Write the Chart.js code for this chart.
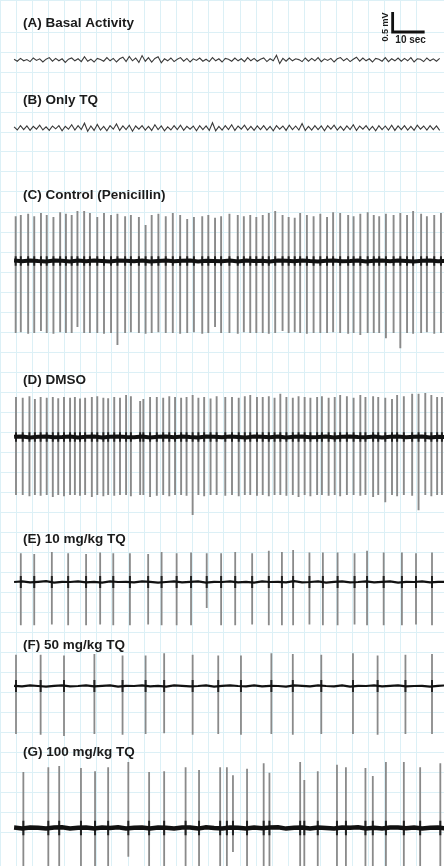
<!DOCTYPE html>
<html>
<head>
<meta charset="utf-8">
<script src="https://cdn.jsdelivr.net/npm/chart.js@4.4.0/dist/chart.umd.min.js"></script>
<style>
  html, body { margin: 0; padding: 0; background: #fff; overflow: hidden; }
  #wrap { position: relative; width: 444px; height: 866px; }
</style>
</head>
<body>
<div id="wrap"><canvas id="eeg"></canvas></div>
<script>
// panel titles
const panelTitles = ['(A) Basal Activity', '(B) Only TQ', '(C) Control (Penicillin)', '(D) DMSO',
  '(E) 10 mg/kg TQ', '(F) 50 mg/kg TQ', '(G) 100 mg/kg TQ'];

// A / B : continuous traces, mV, one sample per second starting at 4.4 s
const traceStart = 4.4;
const traceStep = 1;
const basalTrace = [
  0.02,-0.03,0.04,-0.02,0.01,-0.04,0.05,-0.01,0.03,-0.05,0.02,0.06,-0.03,0.04,-0.02,0.03,-0.06,0.02,0.05,-0.02,
  0.03,-0.04,0.08,-0.03,0.02,-0.05,0.04,0.01,-0.03,0.06,-0.02,0.04,-0.05,0.03,0.07,-0.04,0.09,-0.02,0.05,-0.06,
  0.11,-0.03,0.06,-0.05,0.04,0.08,-0.07,0.03,-0.02,0.05,-0.04,0.02,0.06,-0.03,0.04,-0.05,0.03,-0.01,0.05,-0.03,
  0.02,-0.04,0.06,-0.02,0.03,-0.05,0.04,0.02,-0.03,0.05,-0.02,0.03,-0.04,0.06,-0.02,0.04,-0.03,0.02,0.05,-0.04,
  0.03,-0.02,0.12,-0.09,0.04,-0.03,0.05,-0.02,0.03,0.01,-0.04,0.05,-0.03,0.04,-0.02,0.06,-0.04,0.03,-0.01,0.04,
  -0.05,0.03,0.06,-0.02,0.04,-0.04,0.02,0.07,-0.03,0.05,-0.02,0.03,-0.05,0.04,0.02,-0.03,0.06,-0.04,0.03,-0.02,
  0.05,-0.03,0.04,-0.02,0.06,-0.05,0.03,0.02,-0.04,0.05,-0.02,0.03,-0.03,0.04
];
const onlyTqTrace = [
  0.03,-0.05,0.06,-0.04,0.05,-0.06,0.04,-0.03,0.07,-0.05,0.03,-0.06,0.05,-0.02,0.06,-0.07,0.04,-0.03,0.08,-0.05,
  0.06,-0.04,0.12,-0.08,0.05,-0.06,0.09,-0.05,0.04,-0.07,0.06,-0.03,0.10,-0.06,0.05,-0.04,0.07,-0.08,0.05,-0.03,
  0.06,-0.05,0.04,-0.06,0.08,-0.04,0.05,-0.07,0.03,-0.05,0.06,-0.04,0.07,-0.06,0.04,-0.03,0.05,-0.07,0.06,-0.04,
  0.05,-0.06,0.13,-0.07,0.04,-0.05,0.06,-0.04,0.08,-0.06,0.05,-0.03,0.07,-0.05,0.04,-0.06,0.05,-0.04,0.06,-0.05,
  0.04,-0.07,0.06,-0.03,0.05,-0.06,0.07,-0.04,0.05,-0.05,0.11,-0.06,0.04,-0.05,0.06,-0.04,0.05,-0.07,0.06,-0.03,
  0.07,-0.05,0.04,-0.06,0.05,-0.04,0.08,-0.06,0.05,-0.03,0.06,-0.05,0.04,-0.07,0.06,-0.04,0.05,-0.05,0.07,-0.06,
  0.05,-0.04,0.06,-0.05,0.04,-0.06,0.07,-0.03,0.05,-0.05,0.06,-0.04,0.05,-0.06
];

// C..G : baseline wobble, mV, one sample per 2.5 s starting at 4.4 s
const baseStep = 2.5;
const cBase = [
  0.01,-0.005,0.015,0,-0.01,0.01,0.005,-0.01,0.015,-0.005,
  0.01,0,-0.015,0.01,0.005,-0.005,0.015,-0.01,0,0.01,
  -0.005,0.005,0.015,-0.01,0.005,0,-0.005,0.01,-0.01,0.015,
  0,0.005,-0.01,0.01,0.005,-0.005,0.015,0,-0.01,0.005,
  0.01,-0.005,0,0.015,-0.01,0.005,0.01,-0.005,0.01,0,
  -0.01,0.005,0.015,-0.005,0.005
];
const dBase = [
  0.005,0.015,-0.01,0.005,0.01,-0.005,0,0.015,-0.01,0.005,
  0.01,-0.01,0.005,0.015,0,-0.005,0.01,-0.01,0.005,0.01,
  -0.005,0.015,0,-0.01,0.01,0.005,-0.005,0.01,0,-0.01,
  0.015,0.005,-0.005,0.01,-0.01,0.005,0.015,-0.005,0,0.01,
  -0.01,0.005,0.01,0,-0.005,0.015,-0.01,0.005,0.01,-0.005,
  0.005,0.01,-0.01,0.005,0
];
const eBase = [
  0,0.015,-0.01,0.005,0.02,-0.015,0.005,0,0.015,-0.01,
  0.005,-0.015,0.015,0,0.005,-0.01,0.015,0.005,-0.015,0,
  0.015,-0.01,0.005,0.015,-0.015,0.005,0,0.015,-0.01,0.005,
  -0.015,0.015,0,0.005,-0.01,0.02,-0.01,0,0.015,-0.015,
  0.005,0.015,-0.01,0,0.015,-0.01,0.005,0.015,-0.015,0.005,
  0,0.015,-0.01,0.005,0
];
const fBase = [
  0.005,-0.01,0.015,0,-0.015,0.005,0.015,-0.01,0,0.015,
  -0.01,0.005,0.015,-0.015,0.005,0,0.015,-0.01,0.005,-0.015,
  0.015,0.005,-0.01,0,0.015,-0.015,0.005,0.015,0,-0.01,
  0.015,-0.01,0.005,0,-0.015,0.015,0.005,-0.01,0.015,0,
  -0.01,0.015,-0.015,0.005,0,0.015,-0.01,0.005,0.015,-0.01,
  0,0.005,-0.015,0.005,0.015
];
const gBase = [
  0.01,-0.01,0.015,0.005,-0.015,0.01,0.02,-0.01,0.005,0.015,
  -0.015,0.01,0,0.02,-0.01,0.005,0.015,-0.015,0.01,0.005,
  -0.01,0.015,0.01,-0.015,0.02,0,-0.01,0.015,0.005,-0.01,
  0.015,-0.005,0.01,0.02,-0.015,0.005,0.01,-0.01,0.015,0,
  -0.015,0.01,0.005,0.02,-0.01,0.005,-0.015,0.015,0.01,-0.005,
  0.015,-0.01,0.005,0.01,-0.01
];

// spike trains: time (s), upward and downward deflection (mV)
const cTimes = [
  4.9,6.5,8.8,10.7,12.8,14.6,16.7,18.8,20.6,22.4,
  24.2,26.3,28.1,30.4,32.5,34.7,36.7,39.1,40.9,43.4,
  45.5,47.4,49.5,51.8,54.0,56.3,58.5,60.6,63.2,65.1,
  67.2,69.1,71.7,74.3,76.2,78.2,80.1,82.1,84.0,86.0,
  88.3,90.2,92.1,93.8,95.9,98.0,100.1,102.2,104.1,106.3,
  108.8,110.5,112.6,114.9,116.8,118.5,120.6,123.0,125.1,127.2,
  129.1,131.6,133.4,135.7,137.8
];
const cUp = [
  1.12,1.15,1.18,1.12,1.2,1.15,1.1,1.22,1.18,1.15,
  1.25,1.25,1.2,1.1,1.2,1.15,1.18,1.12,1.15,1.1,
  0.9,1.15,1.18,1.12,1.2,1.15,1.05,1.1,1.12,1.15,
  1.08,1.12,1.18,1.15,1.12,1.15,1.1,1.15,1.2,1.25,
  1.15,1.1,1.08,1.2,1.15,1.12,1.18,1.1,1.22,1.2,
  1.15,1.12,1.18,1.22,1.15,1.12,1.18,1.15,1.2,1.15,
  1.25,1.18,1.12,1.15,1.2
];
const cDown = [
  1.8,1.78,1.82,1.8,1.75,1.8,1.82,1.78,1.8,1.8,
  1.65,1.8,1.8,1.8,1.82,1.8,2.1,1.8,1.78,1.8,
  1.82,1.8,1.78,1.8,1.8,1.82,1.8,1.78,1.82,1.8,
  1.65,1.8,1.8,1.82,1.78,1.8,1.8,1.8,1.82,1.8,
  1.75,1.8,1.78,1.8,1.82,1.8,1.8,1.8,1.78,1.8,
  1.82,1.8,1.85,1.8,1.8,1.8,1.93,1.8,2.18,1.8,
  1.82,1.8,1.78,1.82,1.8
];

const dTimes = [
  5.0,7.1,9.2,10.9,12.7,14.6,16.5,18.2,20.0,21.9,
  23.4,25.0,26.6,28.7,30.4,32.3,33.8,35.7,37.5,39.4,
  40.9,43.8,44.8,46.9,49.0,51.0,52.9,54.7,56.6,58.3,
  60.2,62.0,63.8,65.8,67.7,70.4,72.5,74.6,76.5,78.2,
  80.3,82.1,84.0,85.8,87.6,89.5,91.5,93.3,95.2,97.0,
  99.1,100.6,102.7,104.6,106.3,108.4,110.5,112.6,114.2,116.6,
  118.2,120.4,122.5,124.1,126.2,128.8,130.8,132.9,134.8,136.6,
  138.1
];
const dUp = [
  1.0,0.98,1.02,0.95,1.0,0.98,1.0,0.97,1.0,0.98,
  1.0,0.96,0.98,1.0,1.02,0.98,0.97,1.0,0.98,1.05,
  1.02,0.9,0.95,1.0,1.0,0.98,1.02,1.0,0.98,1.0,
  1.05,0.98,1.0,0.96,1.02,1.0,1.0,0.98,1.02,1.05,
  1.0,1.0,1.02,0.98,1.08,1.0,0.98,1.02,1.0,0.98,
  1.0,1.02,0.98,1.0,1.05,1.02,0.98,1.05,1.0,1.02,
  1.0,0.98,0.95,1.05,1.02,1.08,1.08,1.1,1.05,1.0,
  1.0
];
const dDown = [
  1.45,1.45,1.48,1.45,1.47,1.45,1.5,1.45,1.48,1.45,
  1.45,1.47,1.45,1.5,1.45,1.48,1.45,1.47,1.45,1.45,
  1.48,1.45,1.45,1.5,1.47,1.45,1.48,1.45,1.45,1.47,
  1.95,1.45,1.48,1.45,1.45,1.47,1.45,1.48,1.45,1.45,
  1.47,1.45,1.48,1.45,1.45,1.47,1.45,1.5,1.45,1.48,
  1.45,1.45,1.47,1.45,1.48,1.45,1.45,1.47,1.45,1.5,
  1.45,1.63,1.45,1.48,1.45,1.47,1.83,1.45,1.48,1.45,
  1.45
];

const eTimes = [
  6.5,10.7,16.2,21.3,26.9,31.3,35.4,40.6,46.3,50.5,
  55.2,59.7,64.6,69.1,73.5,78.8,84.0,88.1,91.6,96.7,
  100.9,105.5,110.8,114.7,119.9,125.6,130.0,135.0
];
const eUp = [
  0.72,0.7,0.75,0.72,0.7,0.74,0.72,0.72,0.7,0.75,
  0.72,0.74,0.72,0.72,0.75,0.72,0.78,0.75,0.8,0.74,
  0.74,0.74,0.72,0.78,0.74,0.74,0.72,0.74
];
const eDown = [
  1.08,1.08,1.06,1.08,1.08,1.06,1.08,1.08,1.06,1.08,
  1.08,1.08,0.65,1.08,1.08,1.06,1.08,1.08,1.08,1.06,
  1.08,1.08,1.06,1.08,1.08,1.08,1.06,1.08
];

const fTimes = [5.0,12.7,20.0,29.5,38.3,45.5,51.3,60.2,68.2,75.3,84.8,91.5,100.4,110.3,118.0,126.7,135.0];
const fUp = [0.78,0.78,0.76,0.8,0.76,0.76,0.82,0.78,0.76,0.76,0.82,0.8,0.78,0.82,0.76,0.78,0.8];
const fDown = [1.2,1.22,1.25,1.2,1.22,1.2,1.18,1.22,1.2,1.22,1.2,1.22,1.2,1.2,1.22,1.2,1.2];

const gTimes = [
  7.3,15.1,18.5,25.3,29.7,33.8,40.1,46.6,51.3,58.0,
  62.2,68.8,70.9,72.8,77.2,82.4,84.2,93.8,95.1,99.3,
  105.3,108.1,114.2,116.5,120.6,126.2,131.3,137.6
];
const gUp = [
  1.4,1.52,1.55,1.5,1.42,1.52,1.65,1.4,1.42,1.52,
  1.45,1.52,1.52,1.32,1.48,1.62,1.38,1.65,1.2,1.42,
  1.58,1.52,1.5,1.3,1.65,1.65,1.52,1.62
];
const gDown = [
  1.0,1.0,1.0,1.0,1.0,1.0,0.72,1.0,1.0,1.0,
  1.0,1.0,1.0,0.6,1.0,1.0,1.0,1.0,1.0,1.0,
  1.0,1.0,1.0,1.0,1.0,1.0,1.0,1.0
];

// layout: where each record sits on the sheet (mV offset), line styles
const offsets = { A: 19.8, B: 18.1, C: 14.775, D: 10.375, E: 6.75, F: 4.15, G: 0.6 };
const titleY = [23, 100, 195, 380, 539, 645, 752];
const gridColor = '#dcf0f6';

function traceData(vals, off, t0, dt) {
  return vals.map((v, i) => ({ x: t0 + i * dt, y: off + v }));
}
function spikeData(times, up, down, off) {
  const pts = [];
  times.forEach((t, i) => {
    pts.push({ x: t, y: off + up[i] }, { x: t, y: off - down[i] }, { x: t, y: null });
  });
  return pts;
}
function coreData(times, off, half) {
  const pts = [];
  times.forEach(t => {
    pts.push({ x: t, y: off + half }, { x: t, y: off - half }, { x: t, y: null });
  });
  return pts;
}

const lineBase = { pointRadius: 0, tension: 0, spanGaps: false, fill: false, borderCapStyle: 'butt' };

const panels = [
  { key: 'C', base: cBase, times: cTimes, up: cUp, down: cDown, bw: 4, sw: 1.9, core: 0.12 },
  { key: 'D', base: dBase, times: dTimes, up: dUp, down: dDown, bw: 4, sw: 1.9, core: 0.12 },
  { key: 'E', base: eBase, times: eTimes, up: eUp, down: eDown, bw: 2.2, sw: 1.8, core: 0.15 },
  { key: 'F', base: fBase, times: fTimes, up: fUp, down: fDown, bw: 2.2, sw: 1.8, core: 0.15 },
  { key: 'G', base: gBase, times: gTimes, up: gUp, down: gDown, bw: 4.5, sw: 1.8, core: 0.18 }
];

const datasets = [];
datasets.push({ ...lineBase, label: 'A', data: traceData(basalTrace, offsets.A, traceStart, traceStep),
  borderColor: '#3a3a3a', borderWidth: 1.1, order: 0 });
datasets.push({ ...lineBase, label: 'B', data: traceData(onlyTqTrace, offsets.B, traceStart, traceStep),
  borderColor: '#3a3a3a', borderWidth: 1.1, order: 0 });
panels.forEach(p => {
  const off = offsets[p.key];
  datasets.push({ ...lineBase, label: p.key + ' base', data: traceData(p.base, off, traceStart, baseStep),
    borderColor: '#111', borderWidth: p.bw, order: 0 });
  datasets.push({ ...lineBase, label: p.key + ' core', data: coreData(p.times, off, p.core),
    borderColor: '#222', borderWidth: 2, order: 1 });
  datasets.push({ ...lineBase, label: p.key + ' spikes', data: spikeData(p.times, p.up, p.down, off),
    borderColor: '#8a8a8a', borderWidth: p.sw, order: 2 });
});

// scale bar: 10 sec x 0.5 mV
const barT = 122.7, barV = 20.5, barSec = 10, barMv = 0.5;

const overlay = {
  id: 'overlay',
  afterDraw(chart) {
    const ctx = chart.ctx;
    const xs = chart.scales.x, ys = chart.scales.y;
    ctx.save();
    ctx.fillStyle = '#1b1b1b';
    ctx.font = 'bold 13.5px "Liberation Sans", Arial, sans-serif';
    ctx.textBaseline = 'middle';
    ctx.textAlign = 'left';
    panelTitles.forEach((t, i) => ctx.fillText(t, 23, titleY[i]));

    const x0 = xs.getPixelForValue(barT), x1 = xs.getPixelForValue(barT + barSec);
    const y0 = ys.getPixelForValue(barV), y1 = ys.getPixelForValue(barV + barMv);
    ctx.strokeStyle = '#111';
    ctx.lineWidth = 2.8;
    ctx.beginPath();
    ctx.moveTo(x0, y1);
    ctx.lineTo(x0, y0);
    ctx.lineTo(x1, y0);
    ctx.stroke();
    ctx.font = 'bold 10px "Liberation Sans", Arial, sans-serif';
    ctx.textAlign = 'center';
    ctx.textBaseline = 'top';
    ctx.fillText('10 sec', (x0 + x1) / 2 + 2, y0 + 3);
    ctx.translate(x0 - 7, (y0 + y1) / 2 + 5);
    ctx.rotate(-Math.PI / 2);
    ctx.font = 'bold 9px "Liberation Sans", Arial, sans-serif';
    ctx.textBaseline = 'middle';
    ctx.fillText('0.5 mV', 0, 0);
    ctx.restore();
  }
};

new Chart('eeg', {
  type: 'line',
  data: { datasets: datasets },
  options: {
    responsive: true,
    maintainAspectRatio: false,
    animation: false,
    layout: { padding: 0 },
    plugins: { legend: { display: false }, tooltip: { enabled: false }, title: { display: false } },
    scales: {
      x: {
        type: 'linear', min: 0, max: 138.75,
        ticks: { display: false, stepSize: 5 },
        grid: { color: gridColor, drawTicks: false },
        border: { display: false }
      },
      y: {
        type: 'linear', min: -0.35, max: 21.3,
        ticks: { display: false, stepSize: 0.5 },
        grid: { color: gridColor, drawTicks: false },
        border: { display: false }
      }
    }
  },
  plugins: [overlay]
});
</script>
</body>
</html>
